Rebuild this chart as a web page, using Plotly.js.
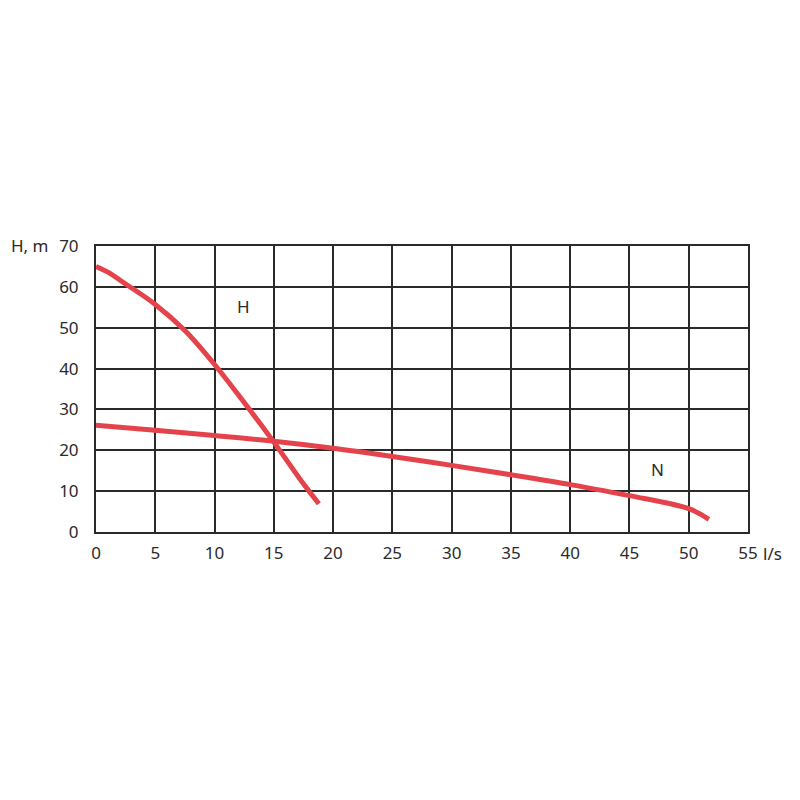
<!DOCTYPE html>
<html><head><meta charset="utf-8">
<script src="https://cdn.plot.ly/plotly-3.0.1.min.js"></script>
<style>body{margin:0;background:#fff}#c{width:800px;height:800px}</style>
</head><body><div id="c"></div>
<script>
var hFlow = [0, 1, 2.5, 5, 7.5, 10, 12.5, 15, 17.5, 18.8];
var hHead = [65, 63.6, 60.7, 55.7, 49.3, 41.0, 31.7, 22.0, 11.8, 6.9];
var nFlow = [0, 5, 10, 15, 20, 25, 30, 35, 40, 45, 50, 51.7];
var nHead = [26.1, 24.9, 23.6, 22.2, 20.5, 18.5, 16.3, 14.0, 11.6, 8.9, 5.7, 3.1];
var xTicks = [0,5,10,15,20,25,30,35,40,45,50,55];
var yTicks = [0,10,20,30,40,50,60,70];
var curveLabels = [{t:'H', x:12.4, y:55.2}, {t:'N', x:47.4, y:15.3}];
var red = '#e5434b';
var font = {family:'Noto Sans, Open Sans, sans-serif', size:17, color:'#2a2a2a'};
var traces = [
 {x:hFlow, y:hHead, mode:'lines', line:{color:red, width:5, shape:'spline', smoothing:1}, hoverinfo:'skip'},
 {x:nFlow, y:nHead, mode:'lines', line:{color:red, width:5, shape:'spline', smoothing:1}, hoverinfo:'skip'}
];
var ann = curveLabels.map(function(c){return {x:c.x,y:c.y,text:c.t,showarrow:false,font:font,xref:'x',yref:'y'};});
ann.push({x:55, y:0, xref:'x', yref:'y', text:'l/s', showarrow:false, font:font, xanchor:'left', yanchor:'middle', xshift:13, yshift:-21});
ann.push({x:0, y:70, xref:'x', yref:'y', text:'H, m', showarrow:false, font:font, xanchor:'right', yanchor:'middle', xshift:-46, yshift:1});
var layout = {
 width:800, height:800, showlegend:false,
 margin:{l:96, r:52, t:246, b:268},
 paper_bgcolor:'#fff', plot_bgcolor:'#fff',
 font:font,
 xaxis:{range:[0,55], tickvals:xTicks, ticktext:xTicks.map(String), showgrid:true, gridcolor:'#2a2a2a', gridwidth:2,
   showline:true, linecolor:'#2a2a2a', linewidth:2, mirror:true, zeroline:false, ticks:'', ticklen:0, ticklabelstandoff:5, fixedrange:true},
 yaxis:{range:[0,70], tickvals:yTicks, ticktext:yTicks.map(String), showgrid:true, gridcolor:'#2a2a2a', gridwidth:2,
   showline:true, linecolor:'#2a2a2a', linewidth:2, mirror:true, zeroline:false, ticks:'', ticklen:0, ticklabelstandoff:12, fixedrange:true},
 annotations:ann
};
Plotly.newPlot('c', traces, layout, {displayModeBar:false, staticPlot:true});
</script></body></html>
